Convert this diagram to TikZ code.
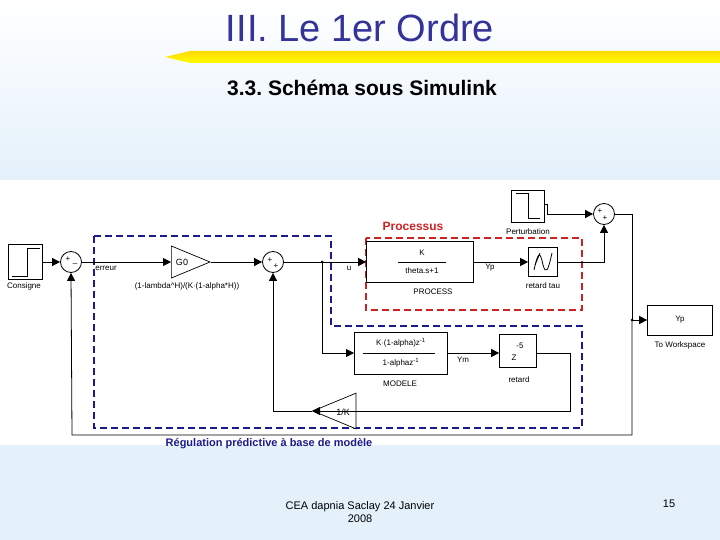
\documentclass[tikz,border=0pt]{standalone}
\usepackage{fontspec}
\setmainfont{Liberation Sans}
\usetikzlibrary{arrows.meta,shapes.geometric}
\definecolor{bgb}{HTML}{E4F1FB}
\definecolor{tblue}{HTML}{333399}
\definecolor{navy}{HTML}{1A1A8C}
\definecolor{dred}{HTML}{CC2222}
\begin{document}
\begin{tikzpicture}[x=1pt,y=-1pt,line width=0.8pt,
  lbl/.style={font=\fontsize{8}{9}\selectfont,inner sep=0pt},
  pm/.style={font=\fontsize{8}{9}\selectfont,inner sep=0pt},
  blk/.style={draw,line width=1pt,fill=white,inner sep=0pt},
  sum/.style={draw,circle,minimum size=21pt,inner sep=0pt,fill=white},
  sig/.style={-{Triangle[length=8pt,width=8pt]}},
  regdash/.style={dash pattern=on 7pt off 4pt,line width=1.5pt}]
\useasboundingbox (0,0) rectangle (720,540);
\shade[top color=white,bottom color=bgb] (0,0) rectangle (720,180);
\fill[bgb] (0,445) rectangle (720,540);
\shade[top color=yellow!70!orange,bottom color=yellow] (165,57) -- (190,51) -- (720,51) -- (720,63) -- (190,63) -- cycle;
\node[text=tblue,font=\fontsize{38}{42}\selectfont] (title) at (360,28) {III. Le 1er Ordre};
\node[font=\bfseries\fontsize{21}{24}\selectfont] (sub) at (362,88) {3.3.\ Schéma sous Simulink};
% dashed regions
\draw[regdash,navy] (94,236) -- (331,236) -- (331,326) -- (582,326) -- (582,428) -- (94,428) -- cycle;
\draw[regdash,dred] (366,238) rectangle (582,310);
\node[text=dred,font=\bfseries\fontsize{12}{14}\selectfont] (proc) at (413,226) {Processus};
\node[text=navy,font=\bfseries\fontsize{11}{13}\selectfont] (reg) at (269,444) {Régulation prédictive à base de modèle};
% blocks
\node[blk,minimum width=34pt,minimum height=35pt] (cons) at (25,262) {};
\draw (12,276) -- (27,276) -- (27,248) -- (40,248);
\node[lbl] (consl) at (24,286) {Consigne};
\node[sum] (s1) at (71,262) {};
\node[pm] at (68,259) {+};\node[pm] at (75,263) {\_};
\node[lbl] (err) at (106,268) {erreur};
\node[blk,line width=0.7pt,isosceles triangle,minimum height=33pt,minimum width=32pt,anchor=west] (g0) at (171,262) {};
\node[lbl,font=\fontsize{9}{10}\selectfont] at (182,262) {G0};
\node[lbl] (g0l) at (187,286) {(1-lambda\textasciicircum H)/(K$\cdot$(1-alpha*H))};
\node[sum] (s2) at (273,262) {};
\node[pm] at (270,260) {+};\node[pm] at (276,266) {+};
\coordinate (b1) at (322,262);
\fill (b1) circle (1.5);
\node[lbl] (u) at (349,268) {u};
\node[blk,line width=0.7pt,minimum width=107pt,minimum height=41pt] (pr) at (420,262) {};
\draw (398,262) -- (446,262);
\node[lbl] at (422,253) {K};\node[lbl] at (422,271) {theta.s+1};
\node[lbl] (prl) at (433,292) {PROCESS};
\node[lbl] (yp) at (490,268) {Yp};
\node[blk,line width=0.7pt,minimum width=29pt,minimum height=29pt] (rt) at (543,262) {};
\draw (534,270) .. controls (538,252) and (540,250) .. (543,265) .. controls (546,275) and (548,271) .. (552,253);
\draw (535,265) -- (540,253);
\node[lbl] (rtl) at (543,286) {retard tau};
\node[blk,line width=0.7pt,minimum width=33pt,minimum height=32pt] (pe) at (528,206) {};
\draw (516,193) -- (528,193) -- (528,218) -- (540,218);
\node[lbl] (pel) at (528,232) {Perturbation};
\node[sum] (s3) at (604,214) {};
\node[pm] at (600,211) {+};\node[pm] at (605,218) {+};
\node[blk,line width=0.7pt,minimum width=65pt,minimum height=30pt] (tw) at (680,320) {};
\node[lbl] at (680,320) {Yp};
\node[lbl] (twl) at (680,345) {To Workspace};
\node[blk,minimum width=93pt,minimum height=42pt] (mo) at (401,353) {};
\draw (363,353) -- (435,353);
\node[lbl] at (401,343) {K$\cdot$(1-alpha)z\textsuperscript{-1}};
\node[lbl] at (401,363) {1-alphaz\textsuperscript{-1}};
\node[lbl] (mol) at (400,384) {MODELE};
\node[lbl] (ym) at (463,360) {Ym};
\node[blk,line width=0.7pt,minimum width=37pt,minimum height=33pt] (rd) at (518,351) {};
\node[lbl] at (520,346) {-5};\node[lbl] at (514,358) {Z};
\node[lbl] (rdl) at (519,380) {retard};
\node[blk,line width=0.7pt,isosceles triangle,shape border rotate=180,minimum height=43pt,minimum width=26pt,anchor=west] (ik) at (312,411) {};
\node[lbl,font=\fontsize{9}{10}\selectfont] at (343,412) {1/K};
% footer
\node[font=\fontsize{11}{13}\selectfont,align=center] (foot) at (360,512) {CEA dapnia Saclay 24 Janvier\\2008};
\node[font=\fontsize{11}{13}\selectfont] (pg) at (669,504) {15};
% connectors
\draw[sig] (cons.east) -- (s1.west);
\draw[sig] (s1.east) -- (g0.west);
\draw[sig] (g0.apex) -- (s2.west);
\draw (s2.east) -- (b1);
\draw[sig] (b1) -- (pr.west);
\draw[sig] (b1) |- (mo.west);
\draw[sig] (pr.east) -- (rt.west);
\draw[sig] (rt.east) -| (s3.south);
\draw[sig] (pe.east |- 0,204) -- (547,204) |- (s3.west);
\coordinate (b2) at (632,320);
\fill (b2) circle (1.5);
\draw (s3.east) -| (b2);
\draw[sig] (b2) -- (tw.west);
\draw[sig] (b2) |- (72,435) -- (s1.south);
\draw[sig] (mo.east) -- (rd.west |- mo.east);
\draw[sig] (rd.east |- mo.east) -- (570,353) |- (ik.west);
\draw[sig] (ik.apex) -| (s2.south);
\end{tikzpicture}
\end{document}
